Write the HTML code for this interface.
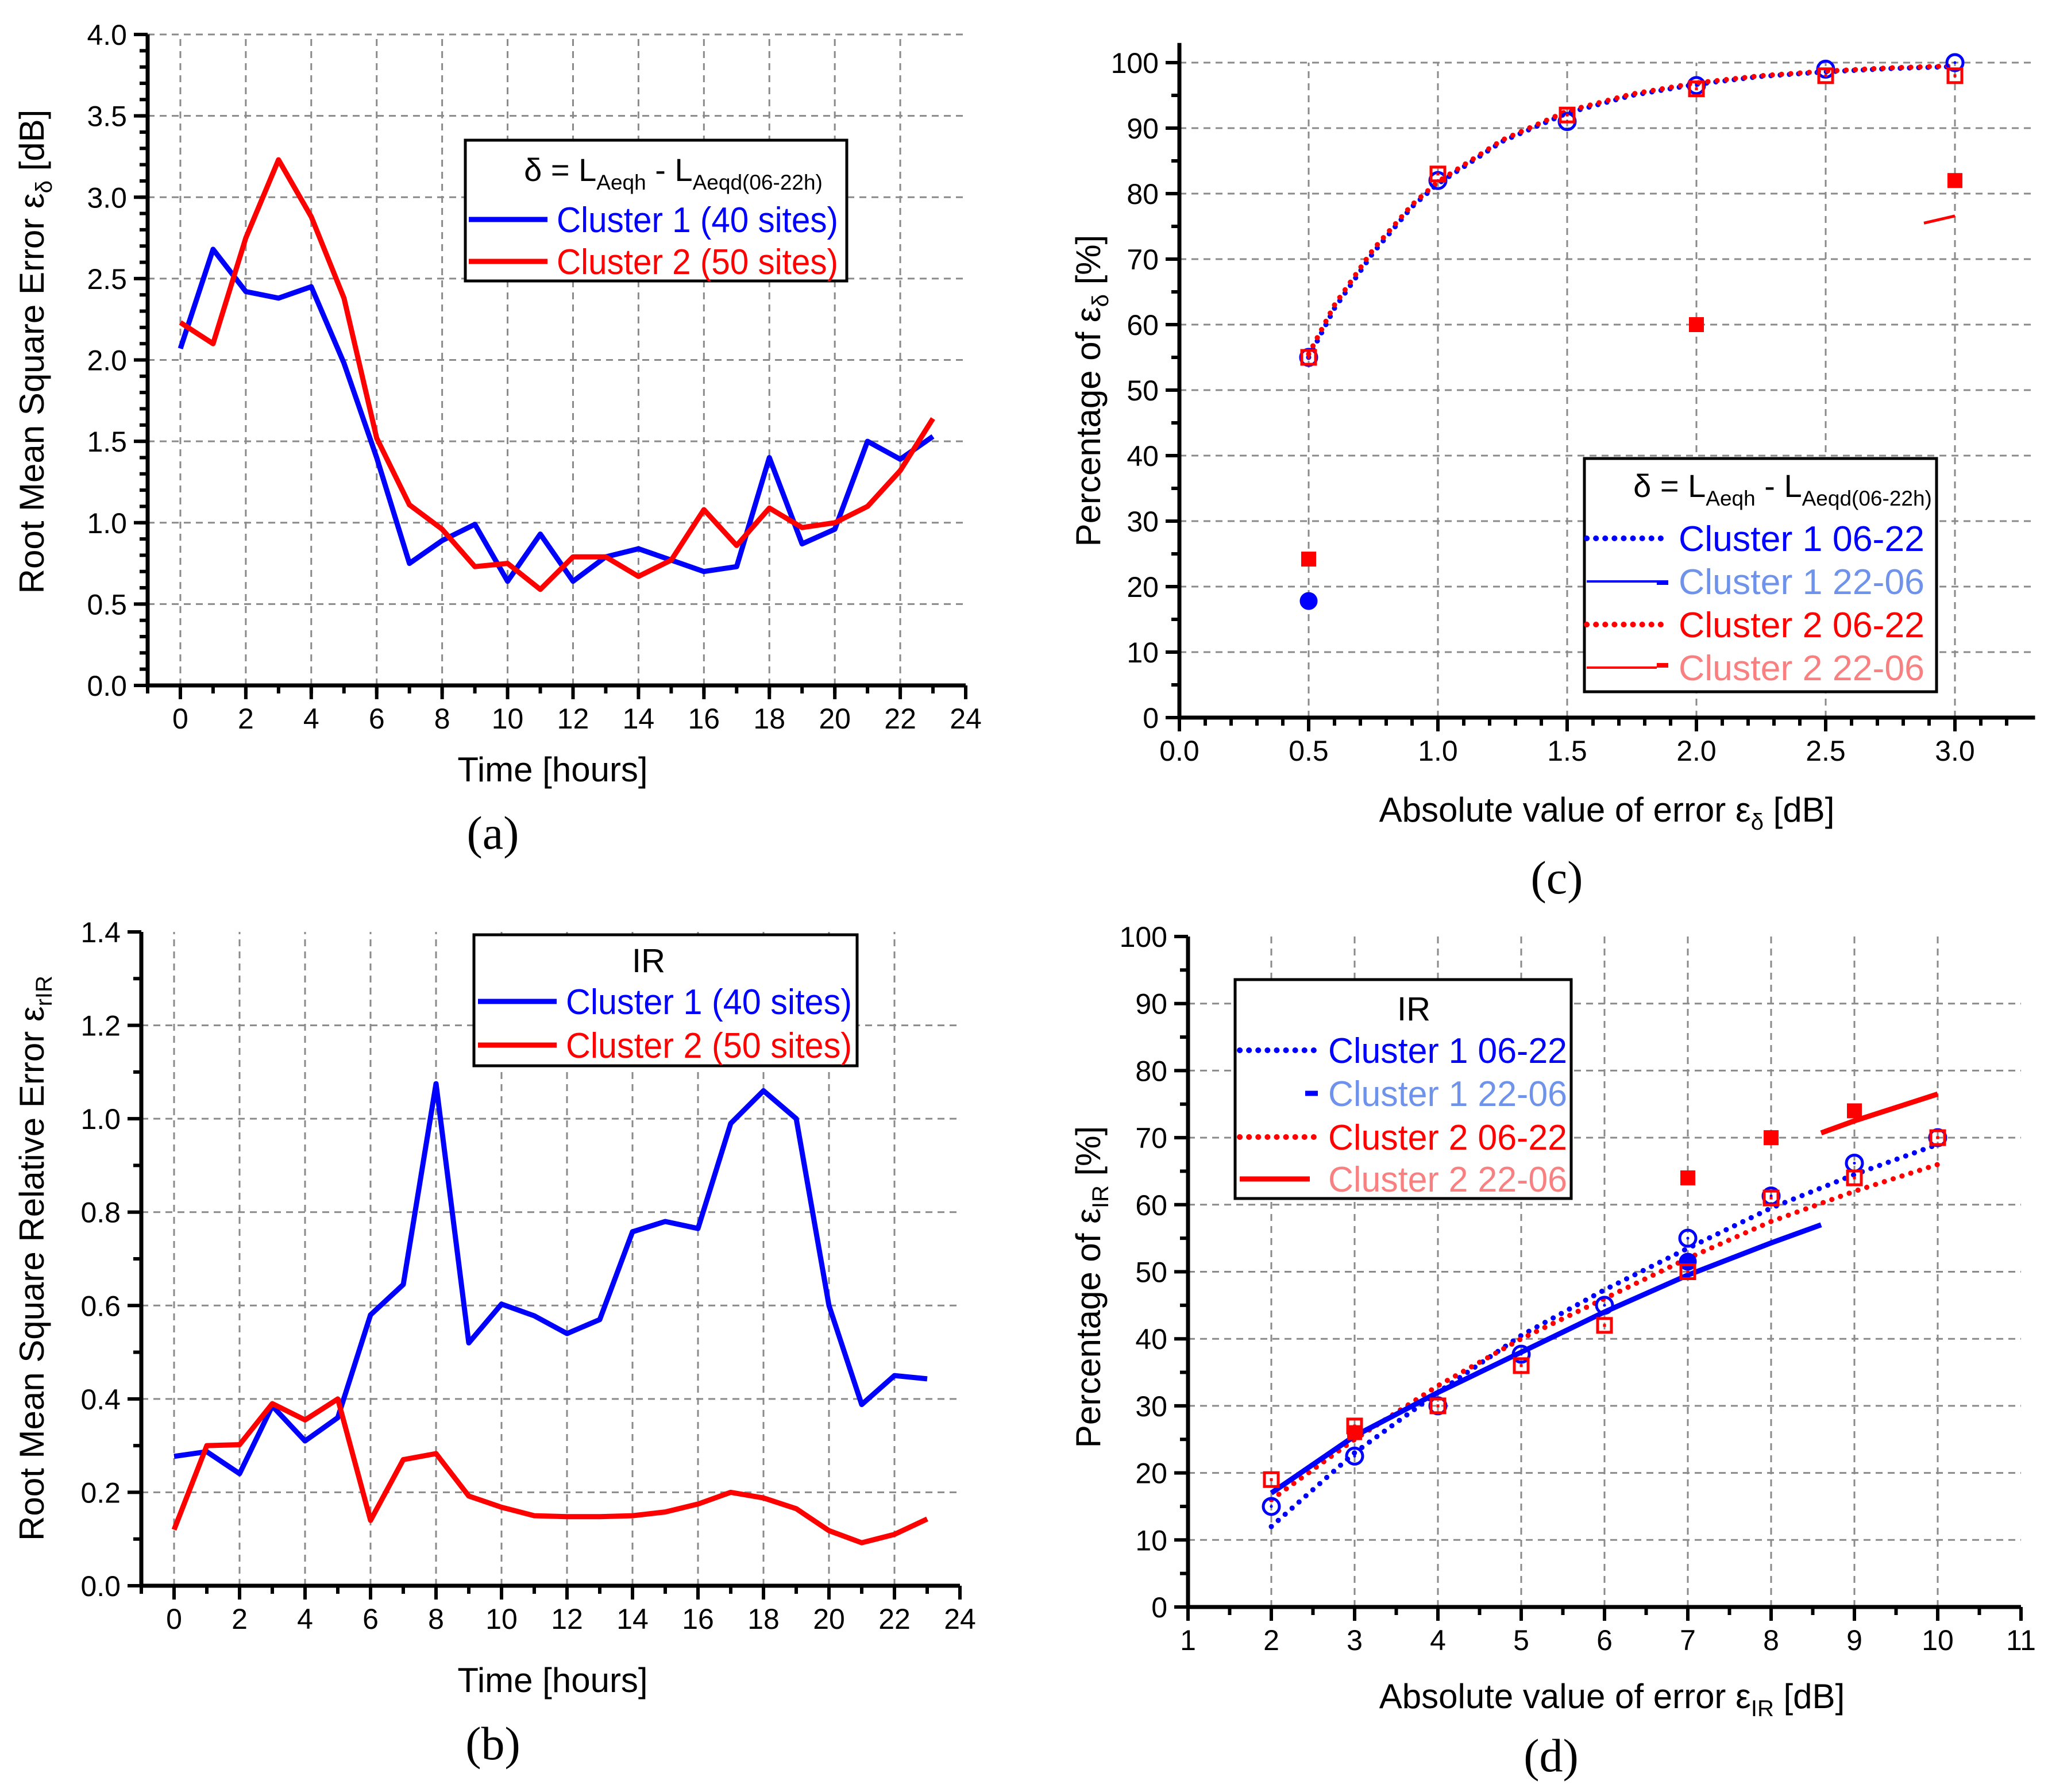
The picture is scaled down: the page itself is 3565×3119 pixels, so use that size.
<!DOCTYPE html>
<html><head><meta charset="utf-8">
<style>
html,body{margin:0;padding:0;background:#fff;}
svg{display:block;}
text{font-family:"Liberation Sans",Arial,sans-serif;}
.serif{font-family:"Liberation Serif","Times New Roman",serif;}
</style></head>
<body>
<svg id="chart" xmlns="http://www.w3.org/2000/svg" width="3565" height="3119" viewBox="0 0 3565 3119">
<rect width="3565" height="3119" fill="#fff"/>
</svg>
<script>
// ---------- Data ----------
const hours = [0,1,2,3,4,5,6,7,8,9,10,11,12,13,14,15,16,17,18,19,20,21,22,23];
const rmseC1 = [2.07,2.68,2.42,2.38,2.45,1.98,1.40,0.75,0.89,0.99,0.64,0.93,0.64,0.79,0.84,0.77,0.70,0.73,1.40,0.87,0.96,1.50,1.39,1.53];
const rmseC2 = [2.23,2.10,2.75,3.23,2.88,2.38,1.52,1.11,0.96,0.73,0.75,0.59,0.79,0.79,0.67,0.77,1.08,0.86,1.09,0.97,1.00,1.10,1.32,1.64];
const irC1 = [0.277,0.287,0.24,0.385,0.31,0.36,0.58,0.645,1.075,0.52,0.603,0.578,0.54,0.57,0.758,0.78,0.765,0.99,1.06,1.0,0.6,0.388,0.45,0.443];
const irC2 = [0.12,0.30,0.302,0.39,0.355,0.40,0.14,0.27,0.283,0.192,0.168,0.15,0.148,0.148,0.15,0.158,0.175,0.20,0.188,0.165,0.118,0.092,0.11,0.143];

const cX = [0.5,1.0,1.5,2.0,2.5,3.0];
const cC1day = [55,82,91,96.5,99,100];
const cC2day = [55,83,92,96,98,98];
const cC1nightX = [0.5];
const cC1night = [17.8];
const cC2nightX = [0.5,2.0,3.0];
const cC2night = [24.2,60,82];
const cFitX = [0.5,0.6,0.75,0.9,1.0,1.25,1.5,1.75,2.0,2.25,2.5,2.75,3.0];
const cFitC1 = [55,62.5,71,78,81.5,88,92.3,95,96.7,97.9,98.6,99.1,99.4];
const cFitC2 = [55.5,63,71.5,78.3,81.8,88.2,92.6,95.2,96.9,98,98.7,99.2,99.5];
const cFitC2nightX = [2.88,3.0];
const cFitC2night = [75.5,76.6];

const dX = [2,3,4,5,6,7,8,9,10];
const dC1day = [15,22.5,30,37.7,45,55,61.3,66.2,70];
const dC2day = [19,27,30,36,42,50,61,64,70];
const dC1nightX = [7];
const dC1night = [51.5];
const dC2nightX = [3,7,8,9];
const dC2night = [26,64,70,74];
const dFitX = [2,3,4,5,6,7,8,9,10];
const dFitC1day = [12,23,32,40.5,47.3,53.5,59.5,64.5,69];
const dFitC2day = [16,25,33,40,46,52,57.5,62,66];
const dFitC1nightX = [2,3,4,5,6,7,8,8.6];
const dFitC1night = [17,25.5,32,38,44,49.5,54.3,57];
const dFitC2nightX = [8.6,9,10];
const dFitC2night = [70.7,72.5,76.5];

// ---------- helpers ----------
const NS = 'http://www.w3.org/2000/svg';
const svg = document.getElementById('chart');
function mk(tag, attrs, parent){
  const e = document.createElementNS(NS, tag);
  for (const k in attrs) e.setAttribute(k, attrs[k]);
  (parent || svg).appendChild(e);
  return e;
}
function scale(d0,d1,p0,p1){ return v => p0 + (v-d0)/(d1-d0)*(p1-p0); }
const BLUE='#0000ff', RED='#ff0000', LBLUE='#6f93ea', LRED='#f88080';

function axes(g, P){
  const sx = P.sx, sy = P.sy;
  P.gridX.forEach(v=>{
    const l = mk('line',{x1:sx(v),x2:sx(v),y1:sy(P.ymin),y2:sy(P.gridTop),stroke:'#8a8a8a','stroke-width':3,'stroke-dasharray':'12 9'},g);
    
    
  });
  P.gridY.forEach(v=>{
    const l = mk('line',{x1:sx(P.xmin),x2:sx(P.xmax),y1:sy(v),y2:sy(v),stroke:'#8a8a8a','stroke-width':3,'stroke-dasharray':'12 9'},g);
    
    
  });
  P.minorX.forEach(v=>{
    const t = mk('line',{x1:sx(v),x2:sx(v),y1:sy(P.ymin),y2:sy(P.ymin)+14,stroke:'#000','stroke-width':6},g);
    
    
  });
  P.minorY.forEach(v=>{
    const t = mk('line',{x1:sx(P.xmin)-14,x2:sx(P.xmin),y1:sy(v),y2:sy(v),stroke:'#000','stroke-width':6},g);
    
    
  });
  P.majorX.forEach((v,i)=>{
    const t = mk('line',{x1:sx(v),x2:sx(v),y1:sy(P.ymin),y2:sy(P.ymin)+24,stroke:'#000','stroke-width':6},g);
    
    
    const lb = mk('text',{x:sx(v),y:sy(P.ymin)+75,'font-size':50,'text-anchor':'middle',fill:'#000'},g);
    
    
    lb.textContent = P.xLabels[i];
  });
  P.majorY.forEach((v,i)=>{
    const t = mk('line',{x1:sx(P.xmin)-24,x2:sx(P.xmin),y1:sy(v),y2:sy(v),stroke:'#000','stroke-width':6},g);
    
    
    const lb = mk('text',{x:sx(P.xmin)-36,y:sy(v)+18,'font-size':50,'text-anchor':'end',fill:'#000'},g);
    
    
    lb.textContent = P.yLabels[i];
  });
  const ax = mk('line',{x1:sx(P.xmin)-3,x2:sx(P.xmax),y1:sy(P.ymin),y2:sy(P.ymin),stroke:'#000','stroke-width':7},g);
  
  
  const ay = mk('line',{x1:sx(P.xmin),x2:sx(P.xmin),y1:sy(P.ymin)+3,y2:sy(P.axisTop),stroke:'#000','stroke-width':7},g);
  
  
}
function path(g, xs, ys, P, color, w, dotted, name){
  const d = xs.map((x,i)=>(i?'L':'M')+P.sx(x).toFixed(1)+' '+P.sy(ys[i]).toFixed(1)).join(' ');
  const a = {d:d,fill:'none',stroke:color,'stroke-width':w,'stroke-linejoin':'round'};
  if (dotted){ a['stroke-dasharray']='0.1 16'; a['stroke-linecap']='round'; }
  const p = mk('path',a,g);
  
  
  return p;
}
function circles(g, xs, ys, P, color, filled, name){
  xs.forEach((x,i)=>{
    const c = mk('circle',{cx:P.sx(x),cy:P.sy(ys[i]),r:filled?13:14,fill:filled?color:'none',stroke:color,'stroke-width':5},g);
    
    
    if(!filled){ const dd = mk('circle',{cx:P.sx(x),cy:P.sy(ys[i]),r:2.5,fill:color},g);
      
       }
  });
}
function squares(g, xs, ys, P, color, filled, name){
  xs.forEach((x,i)=>{
    const s = 24;
    const r = mk('rect',{x:P.sx(x)-s/2,y:P.sy(ys[i])-s/2,width:s,height:s,fill:filled?color:'none',stroke:color,'stroke-width':filled?2:5},g);
    
    
    if(!filled){ const dd = mk('rect',{x:P.sx(x)-2.5,y:P.sy(ys[i])-2.5,width:5,height:5,fill:color},g);
      
       }
  });
}
function txt(g, x, y, size, content, anchor, cls, rot){
  const a = {x:x,y:y,'font-size':size,'text-anchor':anchor||'start',fill:'#000'};
  if (cls) a['class']=cls;
  if (rot) a['transform']='rotate(-90 '+x+' '+y+')';
  const t = mk('text',a,g);
  t.innerHTML = content;
  return t;
}
function legendBox(g,x,y,w,h){
  const r = mk('rect',{x:x,y:y,width:w,height:h,fill:'#fff',stroke:'#000','stroke-width':5},g);
  
  
}
function legendEntry(g, lx1, lx2, ly, tx, label, lineColor, textColor, style, name, tlen){
  const a = {x1:lx1,x2:lx2,y1:ly,y2:ly,stroke:lineColor,'stroke-width':style==='thin'?4:9};
  if (style==='dot'){ a['stroke-dasharray']='0.1 16'; a['stroke-linecap']='round'; a['stroke-width']=10; }
  const l = mk('line',a,g);
  
  
  const t = mk('text',{x:tx,y:ly+22,'font-size':62,fill:textColor,textLength:tlen,lengthAdjust:'spacingAndGlyphs'},g);
  
  
  t.textContent = label;
  return t;
}
function range(a,b,s){ const r=[]; for(let v=a; v<=b+1e-9; v+=s) r.push(Math.round(v*1000)/1000); return r; }

// ---------- Panel (a) ----------
{
  const g = mk('g',{});  
  const P = {xmin:-1,xmax:24,ymin:0,ymax:4,axisTop:4,gridTop:4};
  P.sx = scale(-1,24,257,1681); P.sy = scale(0,4,1193,60);
  P.gridX = range(0,22,2); P.gridY = range(0.5,4,0.5);
  P.minorX = range(-1,23,1); P.minorY = range(0.1,3.9,0.1);
  P.majorX = range(0,24,2); P.xLabels = P.majorX.map(String);
  P.majorY = range(0,4,0.5); P.yLabels = P.majorY.map(v=>v.toFixed(1));
  axes(g,P);
  path(g,hours,rmseC1,P,BLUE,9,false,'line-cluster1');
  path(g,hours,rmseC2,P,RED,9,false,'line-cluster2');
  const yt = txt(g,76,612,60,'Root Mean Square Error ε<tspan dy="14" font-size="40">δ</tspan><tspan dy="-14"> [dB]</tspan>','middle',null,true);
   
  const xt = txt(g,962,1360,60,'Time [hours]','middle');
   
  const pl = txt(g,858,1477,82,'(a)','middle','serif');
   
  legendBox(g,810,244,664,245);
  const lt = txt(g,1172,315,56,'δ = L<tspan dy="15" font-size="37">Aeqh</tspan><tspan dy="-15"> - L</tspan><tspan dy="15" font-size="37">Aeqd(06-22h)</tspan>','middle');
   
  legendEntry(g,816,953,382,969,'Cluster 1 (40 sites)',BLUE,BLUE,'solid','legend-cluster1',490);
  legendEntry(g,816,953,455,969,'Cluster 2 (50 sites)',RED,RED,'solid','legend-cluster2',490);
}

// ---------- Panel (b) ----------
{
  const g = mk('g',{});  
  const P = {xmin:-1,xmax:24,ymin:0,ymax:1.4,axisTop:1.4,gridTop:1.4};
  P.sx = scale(-1,24,246,1671); P.sy = scale(0,1.4,2760,1622);
  P.gridX = range(0,22,2); P.gridY = range(0.2,1.2,0.2);
  P.minorX = range(-1,23,1); P.minorY = range(0.1,1.3,0.2);
  P.majorX = range(0,24,2); P.xLabels = P.majorX.map(String);
  P.majorY = range(0,1.4,0.2); P.yLabels = P.majorY.map(v=>v.toFixed(1));
  axes(g,P);
  path(g,hours,irC1,P,BLUE,9,false,'line-cluster1');
  path(g,hours,irC2,P,RED,9,false,'line-cluster2');
  const yt = txt(g,76,2190,60,'Root Mean Square Relative Error ε<tspan dy="14" font-size="40">rIR</tspan>','middle',null,true);
   
  const xt = txt(g,962,2945,60,'Time [hours]','middle');
   
  const pl = txt(g,858,3062,82,'(b)','middle','serif');
   
  legendBox(g,825,1627,667,228);
  const lt = txt(g,1129,1692,58,'IR','middle');
   
  legendEntry(g,832,969,1743,985,'Cluster 1 (40 sites)',BLUE,BLUE,'solid','legend-cluster1',498);
  legendEntry(g,832,969,1819,985,'Cluster 2 (50 sites)',RED,RED,'solid','legend-cluster2',498);
}

// ---------- Panel (c) ----------
{
  const g = mk('g',{});  
  const P = {xmin:0,xmax:3.31,ymin:0,ymax:100,axisTop:103,gridTop:100};
  P.sx = scale(0,3,2053,3403); P.sy = scale(0,100,1249,109);
  P.gridX = range(0.5,3,0.5); P.gridY = range(10,100,10);
  P.minorX = range(0.1,3.2,0.1); P.minorY = range(5,95,10);
  P.majorX = range(0,3,0.5); P.xLabels = P.majorX.map(v=>v.toFixed(1));
  P.majorY = range(0,100,10); P.yLabels = P.majorY.map(String);
  axes(g,P);
  path(g,cFitX,cFitC1,P,BLUE,9,true,'fit-cluster1-06-22');
  path(g,cFitX,cFitC2,P,RED,9,true,'fit-cluster2-06-22');
  path(g,cFitC2nightX,cFitC2night,P,RED,5,false,'fit-cluster2-22-06');
  circles(g,cX,cC1day,P,BLUE,false,'marker-cluster1-06-22');
  squares(g,cX,cC2day,P,RED,false,'marker-cluster2-06-22');
  circles(g,cC1nightX,cC1night,P,BLUE,true,'marker-cluster1-22-06');
  squares(g,cC2nightX,cC2night,P,RED,true,'marker-cluster2-22-06');
  const yt = txt(g,1915,680,60,'Percentage of ε<tspan dy="14" font-size="40">δ</tspan><tspan dy="-14"> [%]</tspan>','middle',null,true);
   
  const xt = txt(g,2797,1430,60,'Absolute value of error ε<tspan dy="14" font-size="40">δ</tspan><tspan dy="-14"> [dB]</tspan>','middle');
   
  const pl = txt(g,2710,1555,82,'(c)','middle','serif');
   
  legendBox(g,2758,798,613,406);
  const lt = txt(g,3103,865,56,'δ = L<tspan dy="15" font-size="37">Aeqh</tspan><tspan dy="-15"> - L</tspan><tspan dy="15" font-size="37">Aeqd(06-22h)</tspan>','middle');
   
  legendEntry(g,2762,2900,937,2922,'Cluster 1 06-22',BLUE,BLUE,'dot','legend-cluster1-06-22',428);
  legendEntry(g,2762,2884,1012,2922,'Cluster 1 22-06',BLUE,LBLUE,'thin','legend-cluster1-22-06',428);
  legendEntry(g,2762,2900,1087,2922,'Cluster 2 06-22',RED,RED,'dot','legend-cluster2-06-22',428);
  legendEntry(g,2762,2884,1162,2922,'Cluster 2 22-06',RED,LRED,'thin','legend-cluster2-22-06',428);
  const s1 = mk('line',{x1:2884,x2:2904,y1:1014,y2:1014,stroke:BLUE,'stroke-width':8},g);
   
  const s2 = mk('line',{x1:2884,x2:2904,y1:1158,y2:1158,stroke:RED,'stroke-width':8},g);
   
}

// ---------- Panel (d) ----------
{
  const g = mk('g',{});  
  const P = {xmin:1,xmax:11,ymin:0,ymax:100,axisTop:100,gridTop:100};
  P.sx = scale(1,11,2068,3518); P.sy = scale(0,100,2797,1630);
  P.gridX = range(2,10,1); P.gridY = range(10,90,10);
  P.minorX = range(1.5,10.5,1); P.minorY = range(5,95,10);
  P.majorX = range(1,11,1); P.xLabels = P.majorX.map(String);
  P.majorY = range(0,100,10); P.yLabels = P.majorY.map(String);
  axes(g,P);
  path(g,dFitX,dFitC1day,P,BLUE,9,true,'fit-cluster1-06-22');
  path(g,dFitX,dFitC2day,P,RED,9,true,'fit-cluster2-06-22');
  path(g,dFitC1nightX,dFitC1night,P,BLUE,9,false,'fit-cluster1-22-06');
  path(g,dFitC2nightX,dFitC2night,P,RED,9,false,'fit-cluster2-22-06');
  circles(g,dC1nightX,dC1night,P,BLUE,true,'marker-cluster1-22-06');
  squares(g,dC2nightX,dC2night,P,RED,true,'marker-cluster2-22-06');
  circles(g,dX,dC1day,P,BLUE,false,'marker-cluster1-06-22');
  squares(g,dX,dC2day,P,RED,false,'marker-cluster2-06-22');
  const yt = txt(g,1915,2240,60,'Percentage of ε<tspan dy="14" font-size="40">IR</tspan><tspan dy="-14"> [%]</tspan>','middle',null,true);
   
  const xt = txt(g,2806,2973,60,'Absolute value of error ε<tspan dy="14" font-size="40">IR</tspan><tspan dy="-14"> [dB]</tspan>','middle');
   
  const pl = txt(g,2700,3083,82,'(d)','middle','serif');
   
  legendBox(g,2150,1705,585,381);
  const lt = txt(g,2461,1776,58,'IR','middle');
   
  legendEntry(g,2158,2294,1828,2312,'Cluster 1 06-22',BLUE,BLUE,'dot','legend-cluster1-06-22',416);
  legendEntry(g,2272,2294,1903,2312,'Cluster 1 22-06',BLUE,LBLUE,'solid','legend-cluster1-22-06',416);
  legendEntry(g,2158,2294,1979,2312,'Cluster 2 06-22',RED,RED,'dot','legend-cluster2-06-22',416);
  legendEntry(g,2158,2280,2052,2312,'Cluster 2 22-06',RED,LRED,'solid','legend-cluster2-22-06',416);
}
</script>
</body></html>
